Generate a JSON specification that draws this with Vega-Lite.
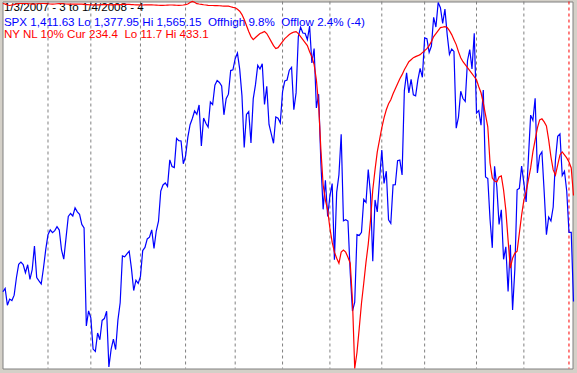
{
  "$schema": "https://vega.github.io/schema/vega-lite/v6.json",
  "width": 570,
  "height": 367,
  "autosize": {"type": "none"},
  "padding": {"left": 2.5, "top": 1.5, "right": 4.5, "bottom": 4.5},
  "background": "#d4d0c8",
  "config": {"view": {"fill": "#ffffff", "stroke": "#808080", "strokeWidth": 1}},
  "datasets": {
    "months": [
      {"i": 20, "m": "Feb", "kind": "month"},
      {"i": 39, "m": "Mar", "kind": "month"},
      {"i": 61, "m": "Apr", "kind": "month"},
      {"i": 81, "m": "May", "kind": "month"},
      {"i": 103, "m": "Jun", "kind": "month"},
      {"i": 124, "m": "Jul", "kind": "month"},
      {"i": 145, "m": "Aug", "kind": "month"},
      {"i": 168, "m": "Sep", "kind": "month"},
      {"i": 187, "m": "Oct", "kind": "month"},
      {"i": 210, "m": "Nov", "kind": "month"},
      {"i": 231, "m": "Dec", "kind": "month"},
      {"i": 251, "m": "Jan", "kind": "year"}
    ],
    "labels": [
      {"text": "1/3/2007 - 3 to 1/4/2008 - 4", "line": 1, "series": "title"},
      {"text": "SPX 1,411.63 Lo 1,377.95 Hi 1,565.15\u00a0 Offhigh 9.8%\u00a0 Offlow 2.4% (-4)", "line": 2, "series": "SPX"},
      {"text": "NY NL 10% Cur 234.4\u00a0 Lo 11.7 Hi 433.1", "line": 3, "series": "NL"}
    ],
    "daily": [
      {"i":0,"spx":1416.60,"nl":14.0},{"i":1,"spx":1418.34,"nl":14.6},{"i":2,"spx":1409.71,"nl":15.7},{"i":3,"spx":1412.84,"nl":16.3},{"i":4,"spx":1412.11,"nl":15.7},
      {"i":5,"spx":1414.85,"nl":15.2},{"i":6,"spx":1423.82,"nl":14.6},{"i":7,"spx":1430.73,"nl":14.2},{"i":8,"spx":1431.90,"nl":14.0},{"i":9,"spx":1430.62,"nl":14.0},
      {"i":10,"spx":1426.37,"nl":14.0},{"i":11,"spx":1430.50,"nl":14.2},{"i":12,"spx":1422.95,"nl":14.3},{"i":13,"spx":1427.99,"nl":14.6},{"i":14,"spx":1440.13,"nl":14.6},
      {"i":15,"spx":1423.90,"nl":14.3},{"i":16,"spx":1422.18,"nl":14.2},{"i":17,"spx":1420.62,"nl":14.0},{"i":18,"spx":1428.82,"nl":14.0},{"i":19,"spx":1438.24,"nl":14.2},
      {"i":20,"spx":1445.94,"nl":14.3},{"i":21,"spx":1448.39,"nl":14.6},{"i":22,"spx":1446.99,"nl":14.7},{"i":23,"spx":1448.00,"nl":14.6},{"i":24,"spx":1450.02,"nl":14.3},
      {"i":25,"spx":1448.31,"nl":14.2},{"i":26,"spx":1438.06,"nl":14.2},{"i":27,"spx":1433.37,"nl":14.3},{"i":28,"spx":1444.26,"nl":14.6},{"i":29,"spx":1455.30,"nl":14.7},
      {"i":30,"spx":1456.81,"nl":14.8},{"i":31,"spx":1455.54,"nl":14.8},{"i":32,"spx":1459.68,"nl":14.7},{"i":33,"spx":1457.63,"nl":14.6},{"i":34,"spx":1456.38,"nl":14.6},
      {"i":35,"spx":1451.19,"nl":14.7},{"i":36,"spx":1449.37,"nl":14.9},{"i":37,"spx":1399.04,"nl":15.2},{"i":38,"spx":1406.82,"nl":15.4},{"i":39,"spx":1403.17,"nl":15.5},
      {"i":40,"spx":1387.17,"nl":15.6},{"i":41,"spx":1386.00,"nl":15.7},{"i":42,"spx":1395.41,"nl":15.6},{"i":43,"spx":1391.97,"nl":15.5},{"i":44,"spx":1401.89,"nl":15.4},
      {"i":45,"spx":1402.84,"nl":15.3},{"i":46,"spx":1406.60,"nl":15.2},{"i":47,"spx":1377.95,"nl":15.4},{"i":48,"spx":1387.17,"nl":15.5},{"i":49,"spx":1392.28,"nl":15.5},
      {"i":50,"spx":1386.95,"nl":15.4},{"i":51,"spx":1402.06,"nl":15.3},{"i":52,"spx":1410.94,"nl":15.2},{"i":53,"spx":1435.04,"nl":15.0},{"i":54,"spx":1434.54,"nl":14.9},
      {"i":55,"spx":1436.11,"nl":14.9},{"i":56,"spx":1437.50,"nl":15.0},{"i":57,"spx":1428.61,"nl":15.2},{"i":58,"spx":1417.23,"nl":15.4},{"i":59,"spx":1422.53,"nl":15.5},
      {"i":60,"spx":1420.86,"nl":15.6},{"i":61,"spx":1424.55,"nl":15.7},{"i":62,"spx":1437.77,"nl":15.7},{"i":63,"spx":1439.37,"nl":15.6},{"i":64,"spx":1443.76,"nl":15.5},
      {"i":65,"spx":1444.61,"nl":15.5},{"i":66,"spx":1448.39,"nl":15.6},{"i":67,"spx":1438.87,"nl":15.7},{"i":68,"spx":1447.80,"nl":15.8},{"i":69,"spx":1452.85,"nl":16.0},
      {"i":70,"spx":1468.33,"nl":16.1},{"i":71,"spx":1471.48,"nl":16.1},{"i":72,"spx":1472.50,"nl":16.0},{"i":73,"spx":1470.73,"nl":15.8},{"i":74,"spx":1484.35,"nl":15.7},
      {"i":75,"spx":1480.93,"nl":15.7},{"i":76,"spx":1480.41,"nl":15.8},{"i":77,"spx":1495.42,"nl":16.0},{"i":78,"spx":1494.25,"nl":16.1},{"i":79,"spx":1494.07,"nl":16.0},
      {"i":80,"spx":1482.37,"nl":15.7},{"i":81,"spx":1486.30,"nl":15.2},{"i":82,"spx":1495.92,"nl":14.6},{"i":83,"spx":1502.39,"nl":12.8},{"i":84,"spx":1505.62,"nl":11.7},
      {"i":85,"spx":1509.48,"nl":12.5},{"i":86,"spx":1507.72,"nl":14.2},{"i":87,"spx":1512.58,"nl":14.6},{"i":88,"spx":1491.47,"nl":14.9},{"i":89,"spx":1505.85,"nl":15.4},
      {"i":90,"spx":1503.15,"nl":15.7},{"i":91,"spx":1501.19,"nl":16.1},{"i":92,"spx":1514.14,"nl":16.3},{"i":93,"spx":1512.75,"nl":16.3},{"i":94,"spx":1522.75,"nl":16.4},
      {"i":95,"spx":1525.10,"nl":16.5},{"i":96,"spx":1524.12,"nl":16.6},{"i":97,"spx":1522.28,"nl":16.8},{"i":98,"spx":1507.51,"nl":16.9},{"i":99,"spx":1515.73,"nl":17.0},
      {"i":100,"spx":1518.11,"nl":17.1},{"i":101,"spx":1530.23,"nl":17.7},{"i":102,"spx":1530.62,"nl":18.4},{"i":103,"spx":1536.34,"nl":18.9},{"i":104,"spx":1539.18,"nl":20.7},
      {"i":105,"spx":1530.95,"nl":22.9},{"i":106,"spx":1517.38,"nl":26.7},{"i":107,"spx":1490.72,"nl":32.4},{"i":108,"spx":1507.67,"nl":39.3},{"i":109,"spx":1509.12,"nl":46.2},
      {"i":110,"spx":1493.00,"nl":52.0},{"i":111,"spx":1515.67,"nl":55.5},{"i":112,"spx":1522.97,"nl":53.1},{"i":113,"spx":1532.91,"nl":50.8},{"i":114,"spx":1531.05,"nl":48.5},
      {"i":115,"spx":1533.70,"nl":47.4},{"i":116,"spx":1512.84,"nl":46.2},{"i":117,"spx":1522.19,"nl":48.5},{"i":118,"spx":1502.56,"nl":53.1},{"i":119,"spx":1497.74,"nl":57.8},
      {"i":120,"spx":1492.89,"nl":62.4},{"i":121,"spx":1506.34,"nl":65.8},{"i":122,"spx":1505.71,"nl":64.7},{"i":123,"spx":1503.35,"nl":61.2},{"i":124,"spx":1519.43,"nl":57.8},
      {"i":125,"spx":1524.87,"nl":54.3},{"i":126,"spx":1525.40,"nl":52.0},{"i":127,"spx":1530.44,"nl":49.7},{"i":128,"spx":1531.85,"nl":48.0},{"i":129,"spx":1510.12,"nl":46.8},
      {"i":130,"spx":1518.76,"nl":46.2},{"i":131,"spx":1547.70,"nl":48.5},{"i":132,"spx":1552.50,"nl":52.0},{"i":133,"spx":1549.52,"nl":55.5},{"i":134,"spx":1549.37,"nl":58.9},
      {"i":135,"spx":1546.17,"nl":62.4},{"i":136,"spx":1553.08,"nl":69.3},{"i":137,"spx":1534.10,"nl":75.0},{"i":138,"spx":1541.57,"nl":84.2},{"i":139,"spx":1511.04,"nl":101.5},
      {"i":140,"spx":1518.09,"nl":130.3},{"i":141,"spx":1482.66,"nl":182.1},{"i":142,"spx":1458.95,"nl":222.4},{"i":143,"spx":1473.91,"nl":239.7},{"i":144,"spx":1455.27,"nl":251.2},
      {"i":145,"spx":1465.81,"nl":272.1},{"i":146,"spx":1472.20,"nl":288.0},{"i":147,"spx":1433.06,"nl":299.5},{"i":148,"spx":1467.67,"nl":306.4},{"i":149,"spx":1476.71,"nl":312.2},
      {"i":150,"spx":1497.49,"nl":299.5},{"i":151,"spx":1453.09,"nl":297.2},{"i":152,"spx":1453.64,"nl":299.5},{"i":153,"spx":1452.92,"nl":305.3},{"i":154,"spx":1426.54,"nl":312.2},
      {"i":155,"spx":1406.70,"nl":354.8},{"i":156,"spx":1411.27,"nl":433.1},{"i":157,"spx":1445.94,"nl":414.7},{"i":158,"spx":1445.55,"nl":387.0},{"i":159,"spx":1447.12,"nl":358.2},
      {"i":160,"spx":1464.07,"nl":335.2},{"i":161,"spx":1462.50,"nl":311.0},{"i":162,"spx":1479.37,"nl":290.3},{"i":163,"spx":1466.79,"nl":262.7},{"i":164,"spx":1432.36,"nl":228.1},
      {"i":165,"spx":1463.76,"nl":205.1},{"i":166,"spx":1457.64,"nl":184.4},{"i":167,"spx":1473.99,"nl":170.6},{"i":168,"spx":1489.42,"nl":156.8},{"i":169,"spx":1472.29,"nl":145.3},
      {"i":170,"spx":1478.55,"nl":136.0},{"i":171,"spx":1453.55,"nl":129.1},{"i":172,"spx":1451.70,"nl":124.5},{"i":173,"spx":1471.49,"nl":117.6},{"i":174,"spx":1471.56,"nl":111.9},
      {"i":175,"spx":1483.95,"nl":106.1},{"i":176,"spx":1484.25,"nl":100.4},{"i":177,"spx":1476.65,"nl":95.7},{"i":178,"spx":1519.78,"nl":90.0},{"i":179,"spx":1529.03,"nl":85.4},
      {"i":180,"spx":1518.75,"nl":80.8},{"i":181,"spx":1525.75,"nl":78.5},{"i":182,"spx":1517.73,"nl":76.2},{"i":183,"spx":1517.21,"nl":75.0},{"i":184,"spx":1525.42,"nl":73.9},
      {"i":185,"spx":1531.38,"nl":72.7},{"i":186,"spx":1526.75,"nl":70.4},{"i":187,"spx":1547.04,"nl":68.1},{"i":188,"spx":1546.63,"nl":65.8},{"i":189,"spx":1539.59,"nl":62.4},
      {"i":190,"spx":1542.84,"nl":57.8},{"i":191,"spx":1557.59,"nl":52.0},{"i":192,"spx":1552.58,"nl":48.5},{"i":193,"spx":1565.15,"nl":45.1},{"i":194,"spx":1562.47,"nl":41.6},
      {"i":195,"spx":1554.41,"nl":41.1},{"i":196,"spx":1561.80,"nl":40.5},{"i":197,"spx":1548.71,"nl":41.6},{"i":198,"spx":1538.53,"nl":45.1},{"i":199,"spx":1541.24,"nl":49.7},
      {"i":200,"spx":1540.08,"nl":55.5},{"i":201,"spx":1500.63,"nl":61.2},{"i":202,"spx":1506.33,"nl":69.3},{"i":203,"spx":1519.59,"nl":76.2},{"i":204,"spx":1515.88,"nl":80.8},
      {"i":205,"spx":1514.40,"nl":84.2},{"i":206,"spx":1535.28,"nl":87.7},{"i":207,"spx":1540.98,"nl":91.1},{"i":208,"spx":1531.02,"nl":94.6},{"i":209,"spx":1549.38,"nl":98.1},
      {"i":210,"spx":1508.44,"nl":101.5},{"i":211,"spx":1509.65,"nl":109.6},{"i":212,"spx":1502.17,"nl":116.5},{"i":213,"spx":1520.27,"nl":128.0},{"i":214,"spx":1475.62,"nl":141.8},
      {"i":215,"spx":1474.77,"nl":155.6},{"i":216,"spx":1453.70,"nl":197.1},{"i":217,"spx":1439.18,"nl":214.3},{"i":218,"spx":1481.05,"nl":217.8},{"i":219,"spx":1470.58,"nl":218.9},
      {"i":220,"spx":1451.15,"nl":213.2},{"i":221,"spx":1458.74,"nl":212.0},{"i":222,"spx":1433.27,"nl":228.1},{"i":223,"spx":1439.70,"nl":251.2},{"i":224,"spx":1416.77,"nl":285.7},
      {"i":225,"spx":1440.70,"nl":317.9},{"i":226,"spx":1407.22,"nl":306.4},{"i":227,"spx":1428.23,"nl":300.7},{"i":228,"spx":1469.02,"nl":298.4},{"i":229,"spx":1469.72,"nl":277.6},
      {"i":230,"spx":1481.14,"nl":257.0},{"i":231,"spx":1472.42,"nl":239.7},{"i":232,"spx":1462.79,"nl":230.4},{"i":233,"spx":1485.01,"nl":216.6},{"i":234,"spx":1507.34,"nl":202.8},
      {"i":235,"spx":1504.66,"nl":184.4},{"i":236,"spx":1515.96,"nl":170.6},{"i":237,"spx":1477.65,"nl":156.8},{"i":238,"spx":1486.59,"nl":147.6},{"i":239,"spx":1488.41,"nl":146.4},
      {"i":240,"spx":1467.95,"nl":149.9},{"i":241,"spx":1445.90,"nl":154.5},{"i":242,"spx":1454.98,"nl":170.6},{"i":243,"spx":1453.00,"nl":190.1},{"i":244,"spx":1460.12,"nl":205.1},
      {"i":245,"spx":1484.46,"nl":210.9},{"i":246,"spx":1496.45,"nl":199.4},{"i":247,"spx":1497.66,"nl":187.9},{"i":248,"spx":1476.27,"nl":184.4},{"i":249,"spx":1478.49,"nl":187.9},
      {"i":250,"spx":1468.36,"nl":191.3},{"i":251,"spx":1447.16,"nl":195.9},{"i":252,"spx":1447.16,"nl":202.8},{"i":253,"spx":1411.63,"nl":234.4}
    ]
  },
  "resolve": {"scale": {"y": "independent", "color": "independent"}},
  "layer": [
    {
      "data": {"name": "months"},
      "mark": {"type": "rule", "strokeDash": [3, 3], "strokeWidth": 1},
      "encoding": {
        "x": {"field": "i", "type": "quantitative", "scale": {"domain": [-0.17, 252.56], "nice": false, "zero": false}, "axis": null},
        "color": {"field": "kind", "type": "nominal", "scale": {"domain": ["month", "year"], "range": ["#808080", "#ff0000"]}, "legend": null}
      }
    },
    {
      "data": {"name": "labels"},
      "mark": {"type": "text", "align": "left", "baseline": "alphabetic", "dx": 1, "font": "Liberation Sans", "fontSize": 11.6},
      "encoding": {
        "x": {"datum": 0, "type": "quantitative"},
        "y": {"field": "line", "type": "quantitative", "scale": {"type": "pow", "exponent": 0.6, "domain": [1, 3], "range": [9.5, 36.5]}, "axis": null},
        "text": {"field": "text"},
        "color": {"field": "series", "type": "nominal", "scale": {"domain": ["title", "SPX", "NL"], "range": ["#000000", "#0000ff", "#ff0000"]}, "legend": null}
      }
    },
    {
      "data": {"name": "daily"},
      "mark": {"type": "line", "color": "#0000ff", "strokeWidth": 1.2},
      "encoding": {
        "x": {"field": "i", "type": "quantitative"},
        "y": {"field": "spx", "type": "quantitative", "scale": {"domain": [1377.2, 1565.7], "nice": false, "zero": false}, "axis": null}
      }
    },
    {
      "data": {"name": "daily"},
      "mark": {"type": "line", "color": "#ff0000", "strokeWidth": 1.2},
      "encoding": {
        "x": {"field": "i", "type": "quantitative"},
        "y": {"field": "nl", "type": "quantitative", "scale": {"domain": [11.7, 433.1], "reverse": true, "nice": false, "zero": false}, "axis": null}
      }
    }
  ]
}
